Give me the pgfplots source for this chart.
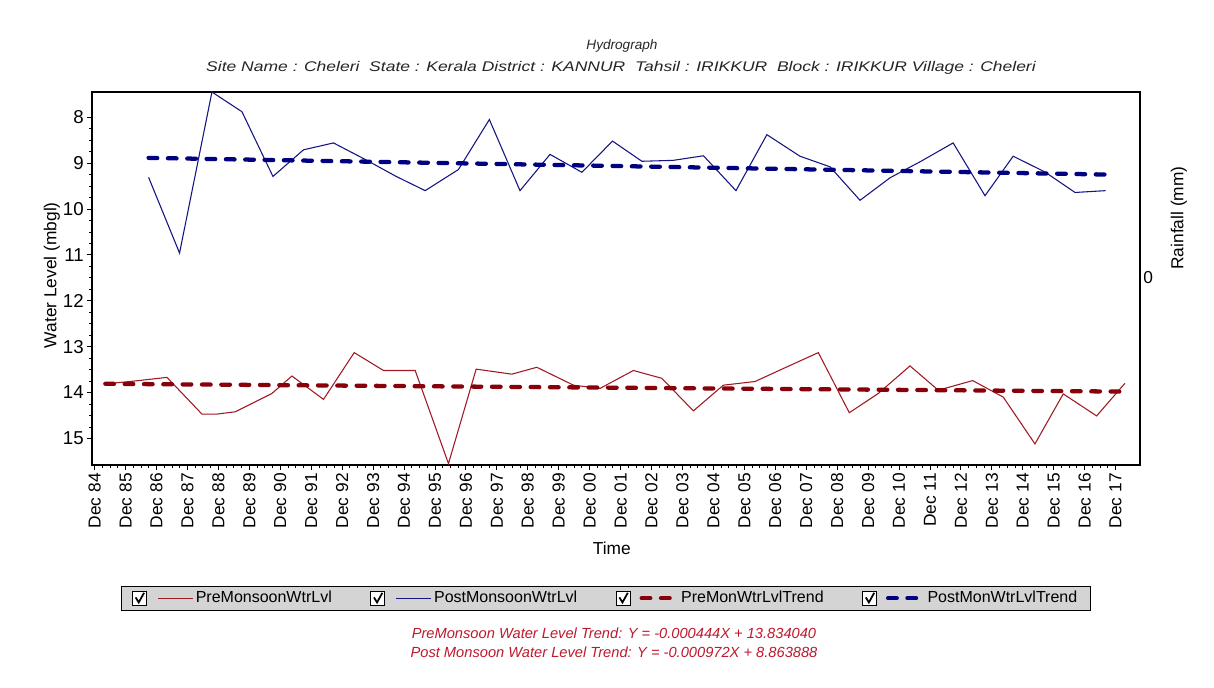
\documentclass[border=0pt]{standalone}
\usepackage{fontspec}
\setmainfont{Liberation Sans}
\usepackage{graphicx}
\usepackage{pgfplots}
\pgfplotsset{compat=1.18}
\definecolor{prered}{RGB}{160,25,35}
\definecolor{postblue}{RGB}{20,20,130}
\definecolor{trendred}{RGB}{135,0,10}
\definecolor{trendblue}{RGB}{0,0,128}
\definecolor{txtred}{RGB}{190,25,45}
\definecolor{leggray}{RGB}{212,212,212}
\pgfplotsset{
  cbox legend/.style={legend image code/.code={%
     \draw[black,fill=white,solid,line width=0.6pt,line cap=butt] (0pt,-5.25pt) rectangle (10.5pt,5.25pt);
     \draw[black,solid,line width=1.3pt,line cap=butt] (2.3pt,0.6pt) -- (4.6pt,-3.2pt) -- (8.6pt,4pt);
     \draw[##1] (19pt,0pt) -- (45pt,0pt);}}}
\begin{document}
\begin{tikzpicture}[x=0.75pt,y=0.75pt]
\useasboundingbox (0,0) rectangle (1214,687);
\fill[white] (0,0) rectangle (1214,687);
\begin{axis}[
  at={(69pt,166.5pt)}, anchor=south west,
  scale only axis, width=786pt, height=279.75pt,
  xmin=-0.084, xmax=33.79,
  ymin=7.45, ymax=15.58, y dir=reverse,
  axis line style={black, line width=0.8pt},
  xtick={0,...,33},
  xticklabels={Dec 84,Dec 85,Dec 86,Dec 87,Dec 88,Dec 89,Dec 90,Dec 91,Dec 92,Dec 93,Dec 94,Dec 95,Dec 96,Dec 97,Dec 98,Dec 99,Dec 00,Dec 01,Dec 02,Dec 03,Dec 04,Dec 05,Dec 06,Dec 07,Dec 08,Dec 09,Dec 10,Dec 11,Dec 12,Dec 13,Dec 14,Dec 15,Dec 16,Dec 17},
  minor x tick num=3,
  ytick={8,...,15}, minor y tick num=3,
  tick align=outside, xtick pos=bottom, ytick pos=left,
  major tick length=4pt, minor tick length=2.5pt,
  tick style={black, line width=0.6pt},
  /pgf/number format/assume math mode=true,
  xticklabel style={rotate=90, anchor=east, font=\fontsize{13}{15}\selectfont, inner sep=2pt},
  yticklabel style={font=\fontsize{14}{16}\selectfont, inner sep=2pt},
  xlabel={Time}, ylabel={Water Level (mbgl)},
  xlabel style={font=\fontsize{13}{15}\selectfont, at={(axis description cs:0.496,-0.2225)}, anchor=center},
  ylabel style={font=\fontsize{13}{15}\selectfont, at={(axis description cs:-0.0382,0.509)}, anchor=center, rotate=0},
  legend columns=4,
  legend style={at={(axis description cs:0.4905,-0.357)}, anchor=center, draw=black, line width=0.8pt, fill=leggray,
    font=\fontsize{12}{14}\selectfont, inner xsep=8pt, inner ysep=2pt,
    /tikz/every even column/.append style={column sep=27pt}},
  legend cell align=left,
]
\addplot[prered, line width=0.8pt, cbox legend] coordinates {
(0.346,13.81) (1.153,13.76) (2.339,13.67) (3.470,14.47) (3.955,14.47) (4.546,14.42)
(5.732,14.02) (6.378,13.64) (7.399,14.15) (8.391,13.13) (9.338,13.52) (10.362,13.52)
(11.438,15.55) (12.333,13.49) (13.486,13.60) (14.294,13.45) (15.477,13.84) (16.339,13.91)
(17.415,13.52) (18.333,13.69) (19.354,14.40) (20.323,13.84) (21.347,13.76) (22.349,13.45)
(23.393,13.13) (24.394,14.44) (25.331,14.02) (26.355,13.42) (27.270,13.95) (28.381,13.74)
(29.370,14.10) (30.394,15.12) (31.309,14.03) (32.388,14.51) (33.302,13.80)};
\addlegendentry{PreMonsoonWtrLvl}
\addplot[postblue, line width=0.8pt, cbox legend] coordinates {
(1.745,9.31) (2.746,10.96) (3.793,7.45) (4.763,7.88) (5.764,9.29) (6.753,8.71)
(7.722,8.56) (8.746,8.92) (9.748,9.29) (10.685,9.60) (11.76,9.14) (12.76,8.05)
(13.75,9.60) (14.72,8.81) (15.75,9.20) (16.74,8.52) (17.69,8.96) (18.70,8.94)
(19.68,8.84) (20.73,9.60) (21.73,8.38) (22.80,8.85) (23.77,9.08) (24.74,9.81)
(25.71,9.32) (26.71,8.96) (27.75,8.56) (28.78,9.71) (29.69,8.85) (30.71,9.19)
(31.69,9.64) (32.68,9.60)};
\addlegendentry{PostMonsoonWtrLvl}
\addplot[trendred, line width=3.2pt, line cap=round, dash pattern=on 6.5pt off 8pt, cbox legend] coordinates {
(0.346,13.81) (33.302,13.98)};
\addlegendentry{PreMonWtrLvlTrend}
\addplot[trendblue, line width=3.2pt, line cap=round, dash pattern=on 6.5pt off 8pt, cbox legend] coordinates {
(1.745,8.886) (32.76,9.25)};
\addlegendentry{PostMonWtrLvlTrend}
\end{axis}
\node[font=\itshape\fontsize{10.2}{12}\selectfont, text=black!85] at (622,641) {Hydrograph};
\node[font=\itshape\fontsize{10.5}{12}\selectfont, text=black!85] at (621,619) {\scalebox{1.25}[1]{Site Name : Cheleri\ \ State : Kerala District : KANNUR\ \ Tahsil : IRIKKUR\ \ Block : IRIKKUR Village : Cheleri}};
\node[rotate=90, font=\fontsize{13}{15}\selectfont] at (1179,469) {Rainfall (mm)};
\node[anchor=west, font=\fontsize{13}{15}\selectfont, inner sep=0pt] at (1143,409) {0};
\node[font=\itshape\fontsize{11}{13}\selectfont, text=txtred] at (614,54) {PreMonsoon Water Level Trend: Y = -0.000444X + 13.834040};
\node[font=\itshape\fontsize{11}{13}\selectfont, text=txtred] at (614,35) {Post Monsoon Water Level Trend: Y = -0.000972X + 8.863888};
\end{tikzpicture}
\end{document}
